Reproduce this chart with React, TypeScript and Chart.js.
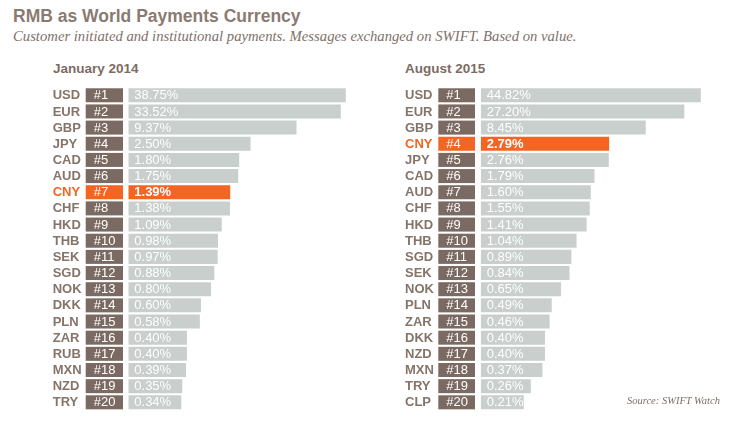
import React, { useEffect, useRef } from "react";
import { Chart, registerables } from "chart.js";

Chart.register(...registerables);

const leftTitle = "January 2014";
const leftCodes = ["USD", "EUR", "GBP", "JPY", "CAD", "AUD", "CNY", "CHF", "HKD", "THB", "SEK", "SGD", "NOK", "DKK", "PLN", "ZAR", "RUB", "MXN", "NZD", "TRY"];
const leftValues = [38.75, 33.52, 9.37, 2.5, 1.8, 1.75, 1.39, 1.38, 1.09, 0.98, 0.97, 0.88, 0.8, 0.6, 0.58, 0.4, 0.4, 0.39, 0.35, 0.34];

const rightTitle = "August 2015";
const rightCodes = ["USD", "EUR", "GBP", "CNY", "JPY", "CAD", "AUD", "CHF", "HKD", "THB", "SGD", "SEK", "NOK", "PLN", "ZAR", "DKK", "NZD", "MXN", "TRY", "CLP"];
const rightValues = [44.82, 27.2, 8.45, 2.79, 2.76, 1.79, 1.6, 1.55, 1.41, 1.04, 0.89, 0.84, 0.65, 0.49, 0.46, 0.4, 0.4, 0.37, 0.26, 0.21];

const highlight = "CNY";

const ORANGE = "#f26522";
const BROWN = "#7b6a62";
const TEXT_BROWN = "#857469";
const BAR_GRAY = "#c8cfcc";
const SANS = '"Liberation Sans", Arial, sans-serif';
const SERIF = '"Liberation Serif", "Times New Roman", serif';

type PanelProps = {
  codes: string[];
  values: number[];
  min: number;
  max: number;
  padLeft: number;
  padRight: number;
  codeX: number;
  boxX: number;
  boxW: number;
};

function Panel(p: PanelProps) {
  const ref = useRef<HTMLCanvasElement | null>(null);
  useEffect(() => {
    if (!ref.current) return;
    const labelPlugin = {
      id: "rankLabels",
      afterDatasetsDraw(chart: any) {
        const ctx = chart.ctx;
        const meta = chart.getDatasetMeta(0);
        const area = chart.chartArea;
        ctx.save();
        meta.data.forEach((el: any, i: number) => {
          const code = p.codes[i];
          const hi = code === highlight;
          const y = el.y;
          const h = el.height;
          ctx.textBaseline = "middle";
          ctx.textAlign = "left";
          ctx.font = `bold 13px ${SANS}`;
          ctx.fillStyle = hi ? ORANGE : TEXT_BROWN;
          ctx.fillText(code, p.codeX, y + 0.5);
          ctx.fillStyle = hi ? ORANGE : BROWN;
          ctx.fillRect(p.boxX, y - h / 2, p.boxW, h);
          ctx.fillStyle = "#ffffff";
          ctx.font = `13px ${SANS}`;
          ctx.fillText("#" + (i + 1), p.boxX + 8, y + 0.5);
          ctx.font = `${hi ? "bold " : ""}13px ${SANS}`;
          ctx.fillText(p.values[i].toFixed(2) + "%", area.left + 6, y + 0.5);
        });
        ctx.restore();
      },
    };
    const chart = new Chart(ref.current, {
      type: "bar",
      data: {
        labels: p.codes,
        datasets: [
          {
            data: p.values,
            base: p.min,
            backgroundColor: p.codes.map((c) => (c === highlight ? ORANGE : BAR_GRAY)),
            borderWidth: 0,
            barPercentage: 0.867,
            categoryPercentage: 1,
          },
        ],
      },
      options: {
        indexAxis: "y",
        animation: false,
        responsive: false,
        devicePixelRatio: 1,
        layout: { padding: { left: p.padLeft, right: p.padRight, top: 7.2, bottom: 9.6 } },
        plugins: { legend: { display: false }, tooltip: { enabled: false }, title: { display: false } },
        scales: {
          x: { type: "logarithmic", min: p.min, max: p.max, display: false },
          y: { display: false },
        },
      },
      plugins: [labelPlugin],
    } as any);
    return () => chart.destroy();
  }, []);
  return <canvas ref={ref} width={368} height={340} style={{ display: "block", width: 368, height: 340 }} />;
}

export default function App() {
  return (
    <div style={{ position: "absolute", left: 0, top: 0, width: 736, height: 421, background: "#fff", overflow: "hidden" }}>
      <div style={{ position: "absolute", left: 13, top: 6, font: `bold 17.5px ${SANS}`, color: "#8a7b72", whiteSpace: "nowrap" }}>
        RMB as World Payments Currency
      </div>
      <div style={{ position: "absolute", left: 13, top: 28, font: `italic 14.7px ${SERIF}`, color: "#7f7069", whiteSpace: "nowrap" }}>
        Customer initiated and institutional payments. Messages exchanged on SWIFT. Based on value.
      </div>
      <div style={{ position: "absolute", left: 53, top: 61, font: `bold 13.5px ${SANS}`, color: "#7d6b63", whiteSpace: "nowrap" }}>
        {leftTitle}
      </div>
      <div style={{ position: "absolute", left: 405, top: 61, font: `bold 13.5px ${SANS}`, color: "#7d6b63", whiteSpace: "nowrap" }}>
        {rightTitle}
      </div>
      <div style={{ position: "absolute", left: 0, top: 80 }}>
        <Panel codes={leftCodes} values={leftValues} min={0.074} max={58.3} padLeft={128.3} padRight={8} codeX={52.7} boxX={85.7} boxW={37.3} />
      </div>
      <div style={{ position: "absolute", left: 368, top: 80 }}>
        <Panel codes={rightCodes} values={rightValues} min={0.057} max={93.3} padLeft={112.7} padRight={11} codeX={37} boxX={70.3} boxW={36.7} />
      </div>
      <div style={{ position: "absolute", left: 627, top: 395, font: `italic 10.5px ${SERIF}`, color: "#7f7069", whiteSpace: "nowrap" }}>
        Source: SWIFT Watch
      </div>
    </div>
  );
}
